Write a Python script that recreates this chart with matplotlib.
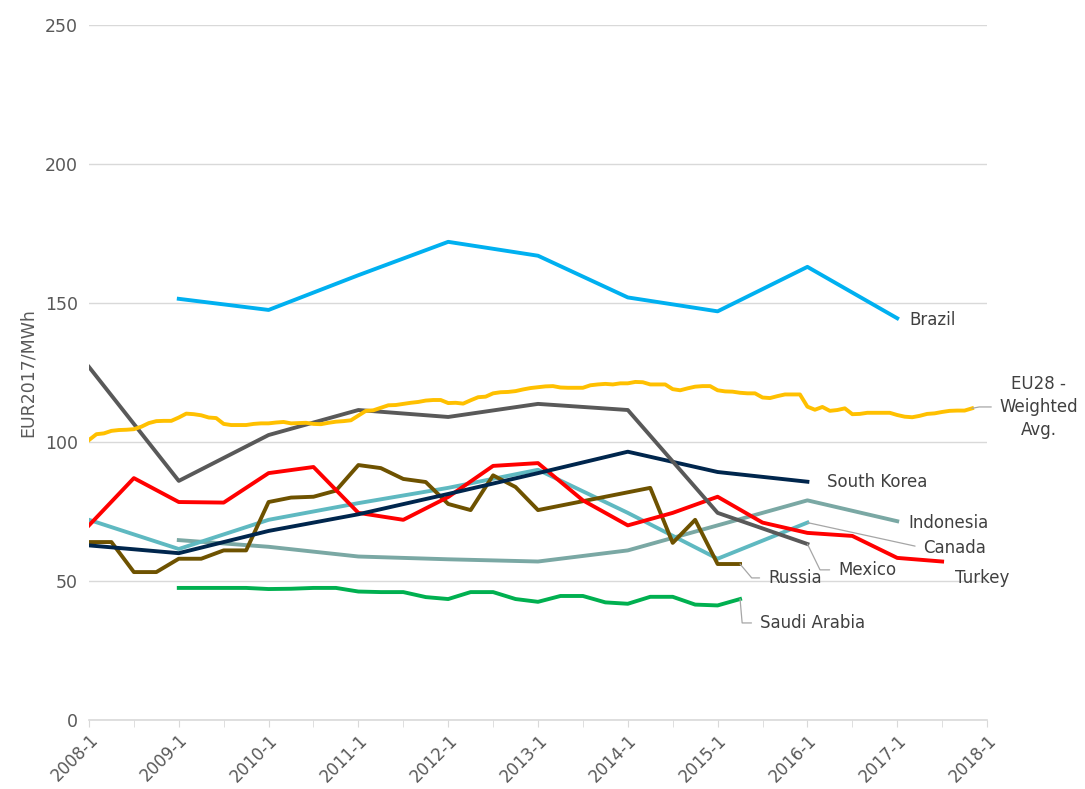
import numpy as np
import matplotlib.pyplot as plt

plt.rcParams['font.family'] = ['DejaVu Sans']

# annual series (value at January of each year)
years = list(range(2008, 2018))
brazil = [np.nan, 151.5, 147.5, 160.0, 172.0, 167.0, 152.0, 147.0, 163.0, 144.5]
mexico = [127.0, 86.0, 102.5, 111.5, 109.0, 113.7, 111.5, 74.5, 63.3, np.nan]
south_korea = [62.8, 60.0, 68.0, 74.0, 81.3, 88.8, 96.5, 89.2, 85.7, np.nan]
canada = [72.0, 61.5, 72.0, 78.0, 83.5, 90.0, 74.5, 58.0, 71.0, np.nan]
indonesia = [np.nan, 64.7, 62.3, 58.8, 57.8, 57.0, 61.0, 70.0, 79.0, 71.5]

# semi-annual series, 2008-1 .. 2017-7
turkey = [70.0, 87.0, 78.4, 78.2, 88.8, 91.0, 74.5, 72.0, 80.2, 91.4,
          92.4, 79.0, 70.0, 74.5, 80.3, 71.0, 67.3, 66.2, 58.3, 57.0]

# quarterly series
russia = [64.0, 64.0, 53.2, 53.2,
          58.0, 58.0, 61.0, 61.0,
          78.4, 80.0, 80.3, 82.5,
          91.7, 90.6, 86.7, 85.6,
          77.7, 75.5, 88.0, 83.8,
          75.5, 77.1, 78.7, 80.3,
          81.9, 83.5, 63.7, 72.0,
          56.1, 56.1]  # from 2008 Q1
saudi_arabia = [47.5, 47.5, 47.5, 47.5,
                47.1, 47.2, 47.5, 47.5,
                46.2, 46.0, 46.0, 44.2,
                43.5, 46.0, 46.0, 43.5,
                42.5, 44.6, 44.6, 42.3,
                41.8, 44.3, 44.3, 41.5,
                41.2, 43.5]  # from 2009 Q1

# monthly EU28 weighted average, from 2008-1
eu28 = [100.7, 102.8, 103.1, 104.0, 104.3, 104.4, 104.6, 105.5, 106.8, 107.5,
        107.6, 107.6, 108.8, 110.2, 110.0, 109.6, 108.8, 108.6, 106.5, 106.1,
        106.1, 106.1, 106.5, 106.7, 106.7, 107.0, 107.2, 106.7, 106.8, 106.9,
        106.5, 106.4, 106.9, 107.3, 107.5, 107.8, 109.5, 111.2, 111.4, 112.3,
        113.2, 113.3, 113.7, 114.1, 114.4, 114.9, 115.1, 115.1, 114.0, 114.1,
        113.8, 115.0, 116.1, 116.3, 117.5, 117.9, 118.0, 118.3, 118.9, 119.4,
        119.7, 120.0, 120.1, 119.6, 119.5, 119.5, 119.5, 120.4, 120.7, 120.9,
        120.7, 121.1, 121.1, 121.6, 121.5, 120.7, 120.7, 120.7, 119.0, 118.6,
        119.3, 119.9, 120.1, 120.1, 118.6, 118.2, 118.1, 117.7, 117.5, 117.5,
        116.0, 115.8, 116.5, 117.1, 117.1, 117.1, 112.7, 111.6, 112.6, 111.2,
        111.5, 112.1, 110.0, 110.1, 110.5, 110.5, 110.5, 110.5, 109.7, 109.1,
        108.9, 109.4, 110.1, 110.3, 110.8, 111.2, 111.3, 111.3, 112.1]

x_year = np.array(years, dtype=float)
x_half = 2008 + 0.5 * np.arange(len(turkey))
x_russia = 2008 + 0.25 * np.arange(len(russia))
x_saudi = 2009 + 0.25 * np.arange(len(saudi_arabia))
x_month = 2008 + np.arange(len(eu28)) / 12

text_color = '#404040'
axis_color = '#595959'
grid_color = '#D9D9D9'
leader_color = '#A6A6A6'

fig = plt.figure(figsize=(10.85, 7.89), dpi=100)
ax = fig.add_axes([0.082, 0.0875, 0.8277, 0.8808])

lw = 2.8
ax.plot(x_year, indonesia, color='#7AA8A4', lw=lw)
ax.plot(x_saudi, saudi_arabia, color='#00B050', lw=lw)
ax.plot(x_year, canada, color='#5FB9C1', lw=lw)
ax.plot(x_russia, russia, color='#6E5200', lw=lw)
ax.plot(x_half, turkey, color='#FF0000', lw=lw)
ax.plot(x_year, south_korea, color='#00264D', lw=lw)
ax.plot(x_year, mexico, color='#595959', lw=lw)
ax.plot(x_month, eu28, color='#FFC000', lw=lw)
ax.plot(x_year, brazil, color='#00B0F0', lw=lw)

ax.set_xlim(2008, 2018)
ax.set_ylim(0, 250)
ax.set_yticks(np.arange(0, 251, 50))
ax.set_xticks(np.arange(2008, 2019))
ax.set_xticks(np.arange(2008, 2018.01, 0.5), minor=True)
ax.set_xticklabels([f'{y}-1' for y in range(2008, 2019)], rotation=45,
                   ha='right', va='top', rotation_mode='anchor')

ax.grid(axis='y', color=grid_color, lw=1.0)
ax.set_axisbelow(True)
for side in ['top', 'right', 'left']:
    ax.spines[side].set_visible(False)
ax.spines['bottom'].set_color(grid_color)
ax.spines['bottom'].set_linewidth(1.2)
ax.tick_params(axis='y', length=0, labelsize=12.5, labelcolor=axis_color, pad=8)
ax.tick_params(axis='x', which='both', direction='out', length=5, color=grid_color,
               labelsize=12, labelcolor=axis_color, pad=3)
ax.set_ylabel('EUR2017/MWh', fontsize=12.5, color=axis_color, labelpad=6)

# series labels
label_kw = dict(fontsize=12, color=text_color, va='center', ha='left')
ax.text(2017.14, 143.9, 'Brazil', **label_kw)
ax.text(2016.22, 85.6, 'South Korea', **label_kw)
ax.text(2017.12, 70.9, 'Indonesia', **label_kw)
ax.text(2017.64, 51.1, 'Turkey', **label_kw)


def leader(text, xy, xytext, angle_b=None, **kw):
    if angle_b is None:
        style = 'arc3'
    else:
        style = f'angle,angleA=0,angleB={angle_b},rad=0'
    ax.annotate(text, xy=xy, xytext=xytext, annotation_clip=False,
                arrowprops=dict(arrowstyle='-', color=leader_color, lw=0.9,
                                connectionstyle=style, relpos=(0, 0.5),
                                shrinkA=4, shrinkB=0),
                **{**label_kw, **kw})


leader('Canada', (2016, canada[8]), (2017.29, 61.9))
leader('Mexico', (2016, mexico[8]), (2016.34, 54.0), angle_b=116)
leader('Russia', (x_russia[-1], russia[-1]), (2015.56, 51.1), angle_b=130)
leader('Saudi Arabia', (x_saudi[-1], saudi_arabia[-1]), (2015.47, 34.9), angle_b=95)
leader('EU28 -\nWeighted\nAvg.', (x_month[-1], eu28[-1]), (2018.14, 112.6),
       angle_b=11, multialignment='center', linespacing=1.35)

fig.savefig('out.png', dpi=100)
